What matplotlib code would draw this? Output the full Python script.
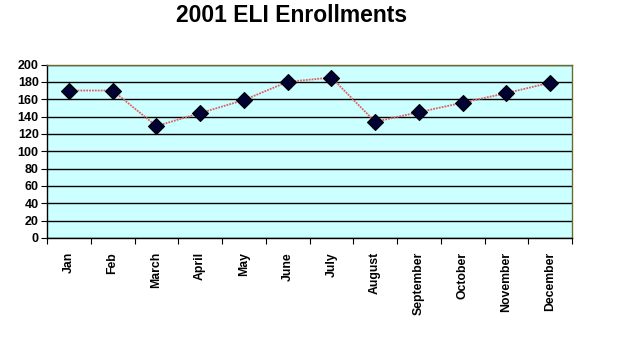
import numpy as np
import matplotlib.pyplot as plt

months = ["Jan", "Feb", "March", "April", "May", "June", "July",
          "August", "September", "October", "November", "December"]
enrollments = [170, 170, 129, 144, 159, 180, 185, 134, 145, 156, 167, 179]
yticks = list(range(0, 201, 20))

plt.rcParams['font.family'] = ['Liberation Sans', 'DejaVu Sans']
plt.rcParams['font.weight'] = 'bold'

fig = plt.figure(figsize=(6.37, 3.40), dpi=100)
ax = fig.add_axes([47/637, 1 - 238/340, (572 - 47)/637, (238 - 64.5)/340])
ax.set_facecolor('#CCFFFF')

x = np.arange(len(months))
ax.plot(x, enrollments, color='#E06060', lw=1.3, ls=(0, (1, 0.6)), zorder=3)
ax.plot(x, enrollments, ls='none', marker='D', ms=8, mfc='#000033',
        mec='black', mew=0.8, zorder=4)

ax.set_xlim(-0.5, 11.5)
ax.set_ylim(0, 200)
ax.set_yticks(yticks)
ax.yaxis.grid(True, color='black', lw=1)
ax.set_axisbelow(True)

# ticks on category boundaries, labels on centres
ax.set_xticks(np.arange(-0.5, 12, 1))
ax.set_xticklabels([])
ax.set_xticks(x, minor=True)
ax.set_xticklabels(months, minor=True, rotation=90, fontsize=8.8, fontweight='bold')
ax.tick_params(axis='x', which='minor', length=0, pad=10)
ax.tick_params(axis='x', which='major', length=4, color='black', direction='out')
ax.tick_params(axis='y', length=4, direction='out', labelsize=9, pad=2)

for s in ['left', 'bottom']:
    ax.spines[s].set_color('black')
    ax.spines[s].set_linewidth(1)
for s in ['top', 'right']:
    ax.spines[s].set_color('#6B6B30')
    ax.spines[s].set_linewidth(1)

fig.text(292/637, 1 - 16/340, "2001 ELI Enrollments", ha='center', va='center',
         fontsize=16.5, fontweight='bold')

fig.savefig('out.png', dpi=100)
